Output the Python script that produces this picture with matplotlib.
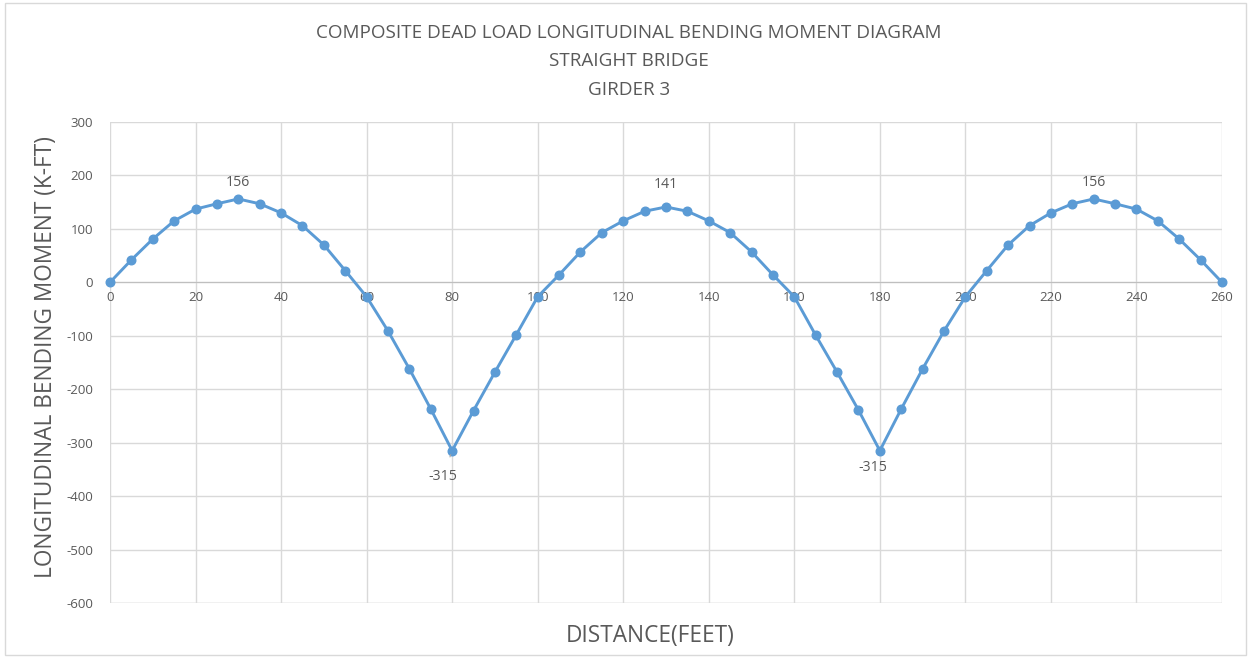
import matplotlib.pyplot as plt
from matplotlib.patches import Rectangle

plt.rcParams['font.family'] = ['Open Sans', 'DejaVu Sans']
plt.rcParams['axes.unicode_minus'] = False

# distance along girder (ft) and moment (k-ft)
distance = [0, 5, 10, 15, 20, 25, 30, 35, 40, 45, 50, 55, 60, 65, 70, 75, 80, 85, 90, 95,
            100, 105, 110, 115, 120, 125, 130, 135, 140, 145, 150, 155, 160, 165, 170, 175,
            180, 185, 190, 195, 200, 205, 210, 215, 220, 225, 230, 235, 240, 245, 250, 255, 260]
moment = [0, 42, 81, 115, 137, 147, 156, 147, 130, 106, 70, 22, -27, -91, -162, -237, -315,
          -240, -168, -98, -27, 14, 57, 93, 115, 133, 141, 133, 115, 93, 57, 14, -27, -99,
          -168, -239, -315, -237, -162, -91, -27, 22, 70, 106, 130, 147, 156, 147, 137, 115,
          81, 42, 0]

xticks = list(range(0, 261, 20))
yticks = list(range(-600, 301, 100))

grey_text = '#595959'
line_col = '#5B9BD5'

fig = plt.figure(figsize=(12.51, 6.58), dpi=100)
fig.patches.append(Rectangle((0.004, 0.004), 0.992, 0.992, transform=fig.transFigure,
                             fill=False, edgecolor='#D9D9D9', linewidth=1))
ax = fig.add_axes([110 / 1251, 55 / 658, 1112 / 1251, 481 / 658])

ax.plot(distance, moment, color=line_col, linewidth=2.1, marker='o', markersize=6.2,
        zorder=3, clip_on=False)

ax.set_xlim(0, 260)
ax.set_ylim(-600, 300)
ax.set_xticks(xticks)
ax.set_yticks(yticks)
ax.grid(True, color='#D9D9D9', linewidth=1)
ax.set_axisbelow(True)
for s in ['left', 'right', 'top']:
    ax.spines[s].set_visible(False)
ax.spines['bottom'].set_position(('data', 0))
ax.spines['bottom'].set_color('#BFBFBF')
ax.tick_params(length=0, labelsize=9.5, labelcolor=grey_text)
ax.tick_params(axis='x', pad=6)
ax.tick_params(axis='y', pad=12)
ax.axhline(-600, color='#D9D9D9', linewidth=1, zorder=0)

# peak labels
ax.annotate('156', (30, 156), xytext=(0, 12), textcoords='offset points',
            ha='center', va='center', fontsize=10.2, color=grey_text)
ax.annotate('141', (130, 141), xytext=(0, 16.5), textcoords='offset points',
            ha='center', va='center', fontsize=10.2, color=grey_text)
ax.annotate('156', (230, 156), xytext=(0, 12), textcoords='offset points',
            ha='center', va='center', fontsize=10.2, color=grey_text)
ax.annotate('-315', (80, -315), xytext=(-6.5, -18.5), textcoords='offset points',
            ha='center', va='center', fontsize=10.2, color=grey_text,
            arrowprops=dict(arrowstyle='-', color='#A6A6A6', lw=0.8, shrinkA=7, shrinkB=3))
ax.annotate('-315', (180, -315), xytext=(-5, -12), textcoords='offset points',
            ha='center', va='center', fontsize=10.2, color=grey_text)

fig.text(629 / 1251, 1 - 24 / 658, 'COMPOSITE DEAD LOAD LONGITUDINAL BENDING MOMENT DIAGRAM\nSTRAIGHT BRIDGE\nGIRDER 3',
         ha='center', va='top', fontsize=13.6, color=grey_text, linespacing=1.74)
fig.text(650 / 1251, 1 - 636 / 658, 'DISTANCE(FEET)', ha='center', va='center',
         fontsize=16.3, color=grey_text)
fig.text(46 / 1251, 1 - 357 / 658, 'LONGITUDINAL BENDING MOMENT (K-FT)', ha='center',
         va='center', rotation=90, fontsize=16.3, color=grey_text)

plt.savefig('out.png', dpi=100)
plt.close()
